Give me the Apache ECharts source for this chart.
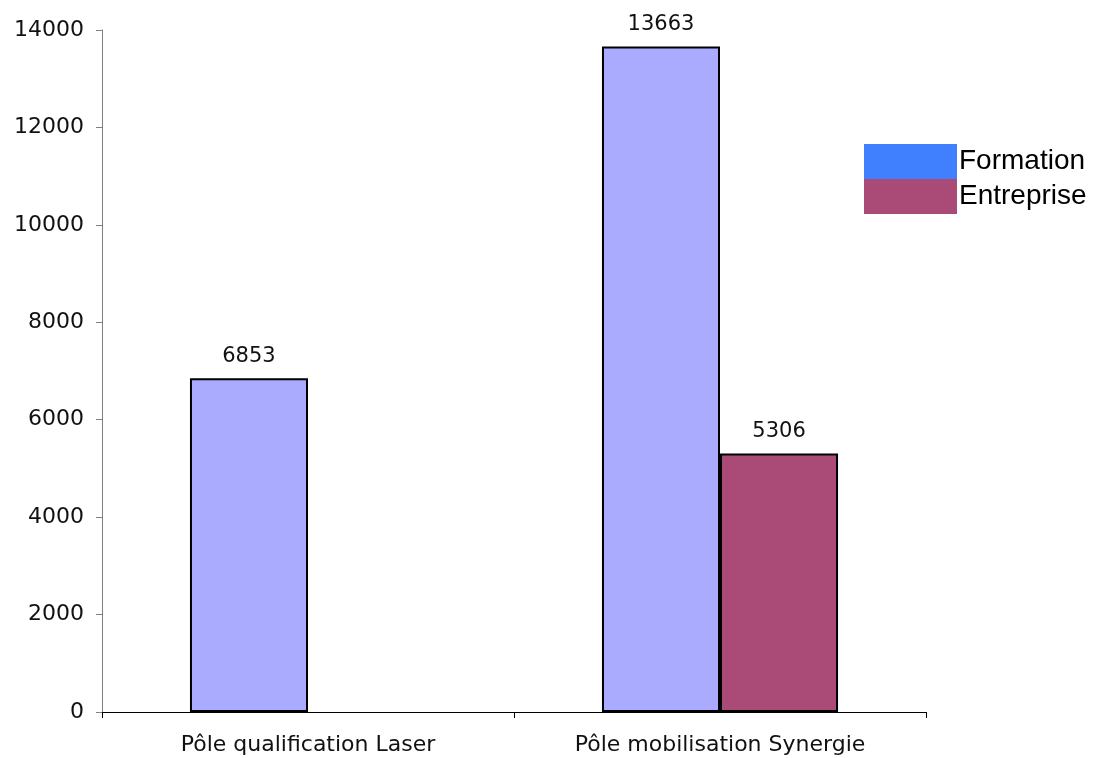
<!DOCTYPE html>
<html><head><meta charset="utf-8">
<script src="https://cdn.jsdelivr.net/npm/echarts@6/dist/echarts.min.js"></script>
<style>html,body{margin:0;padding:0;background:#fff}#c{width:1096px;height:758px}</style>
</head><body><div id="c"></div>
<script>
var categories = ['Pôle qualification Laser', 'Pôle mobilisation Synergie'];
var formation = [6853, 13663];
var entreprise = [null, 5306];
var seriesNames = ['Formation', 'Entreprise'];

var chart = echarts.init(document.getElementById('c'));
var font = 'DejaVu Sans';
chart.setOption({
  animation: false,
  backgroundColor: '#fff',
  grid: {left: 102, right: 170, top: 30, bottom: 46, containLabel: false},
  legend: {
    orient: 'vertical', left: 864, top: 144, padding: 0,
    itemWidth: 93, itemHeight: 35, itemGap: 0,
    icon: 'rect',
    textStyle: {fontFamily: 'Liberation Sans', fontSize: 28, color: '#000', padding: [0, 0, 0, -3]},
    data: [
      {name: seriesNames[0], itemStyle: {color: '#4080FF', borderWidth: 0}},
      {name: seriesNames[1], itemStyle: {color: '#AA4A77', borderWidth: 0}}
    ]
  },
  xAxis: {
    type: 'category', data: categories,
    axisLine: {lineStyle: {color: '#000', width: 1}},
    axisTick: {show: true, length: 6, lineStyle: {color: '#000'}, alignWithLabel: false},
    axisLabel: {fontFamily: font, fontSize: 22, color: '#111', margin: 22}
  },
  yAxis: {
    type: 'value', min: 0, max: 14000, interval: 2000,
    axisLine: {show: true, lineStyle: {color: '#808080', width: 1}},
    axisTick: {show: true, length: 6, lineStyle: {color: '#808080'}},
    splitLine: {show: false},
    axisLabel: {fontFamily: font, fontSize: 22, color: '#111', margin: 18,
      formatter: function (v) { return String(v); }}
  },
  series: [
    {name: seriesNames[0], type: 'bar', data: formation, barGap: 0, barCategoryGap: '42.7%',
     itemStyle: {color: '#AAAAFF', borderColor: '#000', borderWidth: 2},
     label: {show: true, position: 'top', distance: 11, fontFamily: font, fontSize: 21, color: '#111'}},
    {name: seriesNames[1], type: 'bar', data: entreprise, barGap: 0, barCategoryGap: '42.7%',
     itemStyle: {color: '#AA4A77', borderColor: '#000', borderWidth: 2},
     label: {show: true, position: 'top', distance: 11, fontFamily: font, fontSize: 21, color: '#111'}}
  ]
});
</script></body></html>
